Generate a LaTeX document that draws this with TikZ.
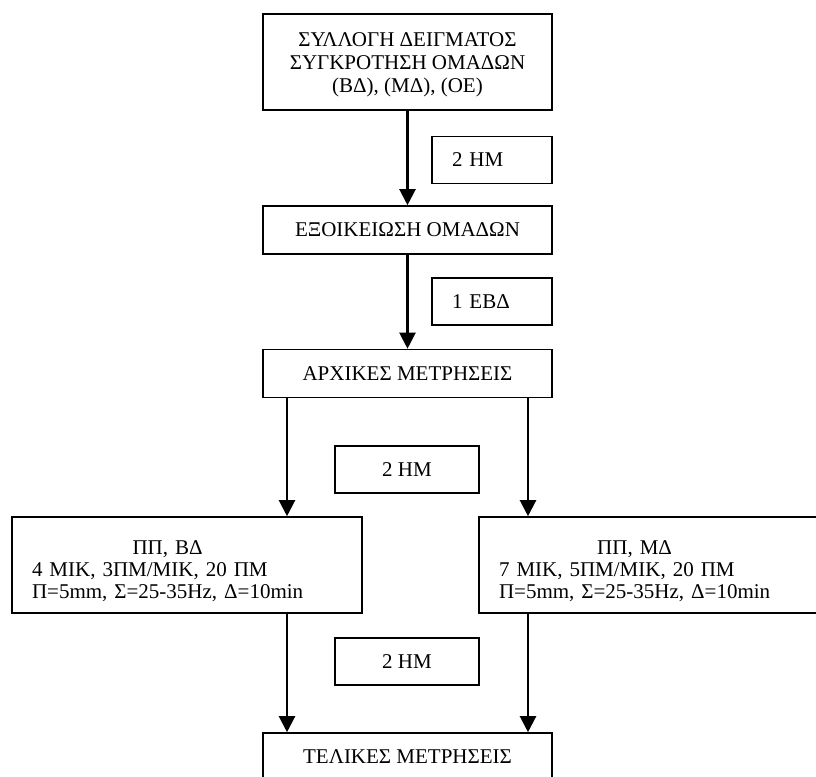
\documentclass[tikz,border=0pt]{standalone}
\usepackage{fontspec}
\setmainfont{Liberation Serif}
\usetikzlibrary{arrows.meta}

\begin{document}
\begin{tikzpicture}[
  x=1pt, y=-1pt,
  every node/.style={font=\fontsize{21}{22}\selectfont},
  box/.style={draw,line width=1.6pt,inner sep=0pt,minimum width=289pt,minimum height=48pt,align=center},
  lapse/.style={draw,line width=1.6pt,inner xsep=20pt,inner ysep=0pt,minimum height=47pt},
  group/.style={draw,line width=1.6pt,inner xsep=20pt,inner ysep=0pt,text width=310pt,minimum height=96pt,align=left},
  flow/.style={-{Triangle[length=16pt,width=16pt]},line width=2.2pt}
]
\clip (0,0) rectangle (816,776);

% κεντρική στήλη
\node[box,minimum height=96pt,font=\fontsize{21}{23}\selectfont] (sample) at (407.5,62)
  {\rule{0pt}{20pt}ΣΥΛΛΟΓΗ ΔΕΙΓΜΑΤΟΣ\\ΣΥΓΚΡΟΤΗΣΗ ΟΜΑΔΩΝ\\(ΒΔ), (ΜΔ), (ΟΕ)};
\node[box] (famil) at (407.5,230) {ΕΞΟΙΚΕΙΩΣΗ ΟΜΑΔΩΝ};
\node[box] (pre) at (407.5,373.5) {ΑΡΧΙΚΕΣ ΜΕΤΡΗΣΕΙΣ};
\node[box] (post) at (407.5,757) {ΤΕΛΙΚΕΣ ΜΕΤΡΗΣΕΙΣ};

% διαστήματα
\node[lapse,text width=80pt,align=left] (gap1) at (492,160) {2 ΗΜ};
\node[lapse,text width=80pt,align=left] (gap2) at (492,301.5) {1 ΕΒΔ};
\node[lapse,minimum width=144pt] (gap3) at (407,469.5) {2 ΗΜ};
\node[lapse,minimum width=144pt] (gap4) at (407,661.5) {2 ΗΜ};

% ομάδες παρέμβασης
\node[group] (left) at (187,565)
  {\begin{tabular}{@{}l@{}}
   \multicolumn{1}{@{}c@{}}{\rule{0pt}{29pt}ΠΠ, ΒΔ}\\
   4 ΜΙΚ, 3ΠΜ/ΜΙΚ, 20 ΠΜ\\
   Π=5mm, Σ=25-35Hz, Δ=10min
   \end{tabular}};
\node[group] (right) at (654,565)
  {\begin{tabular}{@{}l@{}}
   \multicolumn{1}{@{}c@{}}{\rule{0pt}{29pt}ΠΠ, ΜΔ}\\
   7 ΜΙΚ, 5ΠΜ/ΜΙΚ, 20 ΠΜ\\
   Π=5mm, Σ=25-35Hz, Δ=10min
   \end{tabular}};

% βέλη
\coordinate (pl) at ([xshift=-120.5pt]pre.south);
\coordinate (pr) at ([xshift=120.5pt]pre.south);
\draw[flow] (sample) -- (famil);
\draw[flow] (famil) -- (pre);
\draw[flow] (pl) -- (pl |- left.north);
\draw[flow] (pr) -- (pr |- right.north);
\draw[flow] (pl |- left.south) -- (pl |- post.north);
\draw[flow] (pr |- right.south) -- (pr |- post.north);
\end{tikzpicture}
\end{document}
